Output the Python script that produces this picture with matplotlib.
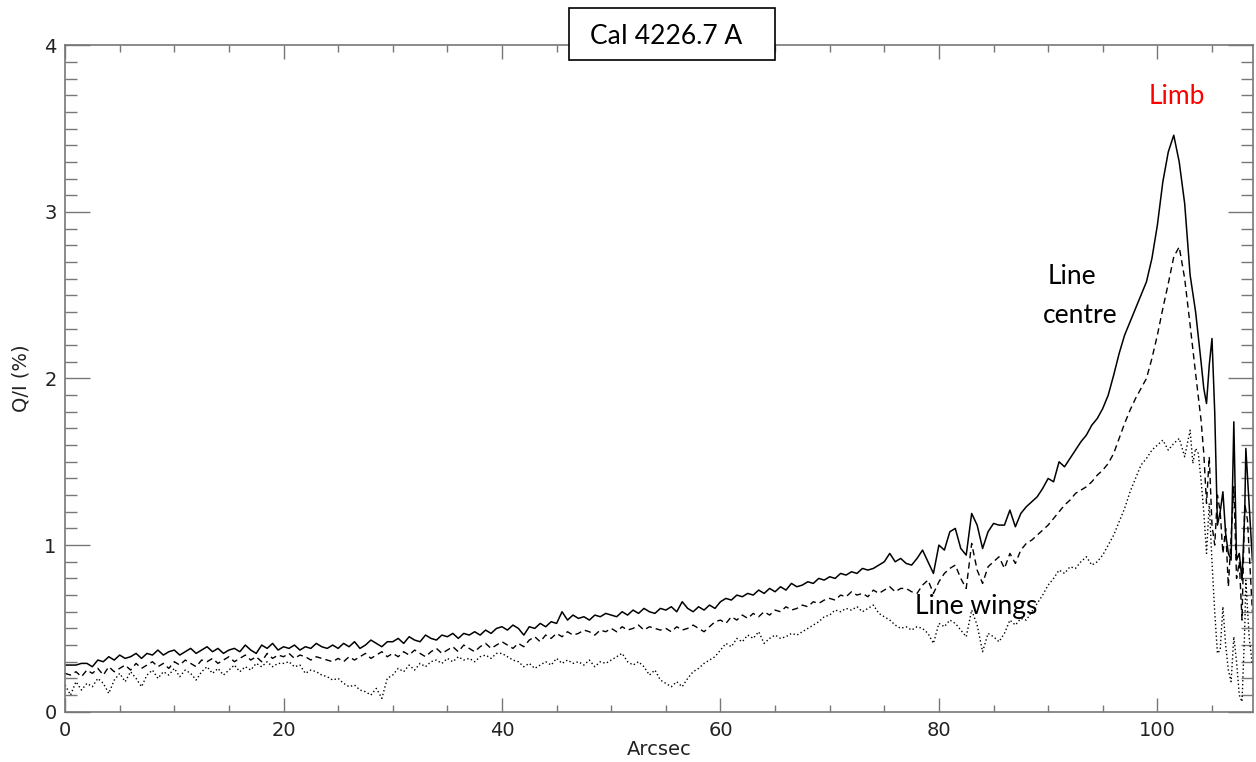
import numpy as np
import matplotlib
matplotlib.use("Agg")
import matplotlib.pyplot as plt
from matplotlib.patches import Rectangle

centre_vals = [
    0.28,0.28,0.28,0.29,0.29,0.27,0.31,0.30,0.33,0.31,0.34,0.32,0.33,0.35,0.32,0.35,0.34,0.37,0.34,0.36,
    0.37,0.34,0.36,0.38,0.35,0.37,0.39,0.36,0.38,0.35,0.37,0.38,0.36,0.40,0.37,0.35,0.40,0.38,0.41,0.37,
    0.39,0.38,0.40,0.37,0.39,0.38,0.41,0.39,0.38,0.40,0.38,0.41,0.39,0.42,0.38,0.40,0.43,0.41,0.39,0.42,
    0.42,0.44,0.41,0.45,0.43,0.42,0.46,0.44,0.43,0.46,0.45,0.47,0.44,0.47,0.46,0.48,0.46,0.49,0.47,0.50,
    0.51,0.49,0.52,0.50,0.46,0.51,0.50,0.53,0.51,0.54,0.53,0.60,0.55,0.58,0.56,0.57,0.55,0.58,0.57,0.59,
    0.58,0.57,0.60,0.58,0.61,0.59,0.62,0.60,0.59,0.62,0.61,0.63,0.60,0.66,0.62,0.60,0.63,0.61,0.64,0.62,
    0.66,0.68,0.67,0.70,0.69,0.71,0.70,0.73,0.71,0.74,0.72,0.75,0.73,0.77,0.75,0.76,0.78,0.77,0.80,0.79,
    0.81,0.80,0.83,0.82,0.84,0.83,0.86,0.85,0.86,0.88,0.90,0.95,0.90,0.92,0.89,0.88,0.92,0.97,0.90,0.83,
    1.00,0.97,1.08,1.10,0.98,0.94,1.19,1.12,0.98,1.08,1.13,1.12,1.12,1.21,1.11,1.19,1.23,1.26,1.29,1.34,
    1.40,1.38,1.50,1.47,1.52,1.57,1.62,1.66,1.72,1.76,1.82,1.90,2.02,2.15,2.26,2.34,2.42,2.50,2.58,2.72]
centre_limb_x = [100,100.5,101,101.5,102,102.5,103,103.5,104,104.25,104.5,104.75,105,105.25,105.5,
                 105.75,106,106.25,106.5,106.75,107,107.25,107.5,107.75,108,108.1,108.4,108.7]
centre_limb = [2.92,3.18,3.36,3.46,3.30,3.05,2.62,2.40,2.10,1.94,1.85,2.08,2.24,1.80,1.12,
               1.20,1.32,1.07,0.95,0.91,1.74,0.91,0.95,0.79,1.20,1.58,1.25,0.91]

dash_vals = [
    0.23,0.22,0.24,0.21,0.25,0.23,0.26,0.22,0.27,0.24,0.26,0.28,0.25,0.29,0.26,0.28,0.30,0.27,0.29,0.26,
    0.30,0.28,0.31,0.29,0.27,0.31,0.30,0.32,0.29,0.31,0.33,0.30,0.32,0.34,0.31,0.33,0.30,0.35,0.32,0.34,
    0.33,0.35,0.32,0.34,0.33,0.31,0.33,0.32,0.31,0.30,0.32,0.30,0.33,0.31,0.33,0.35,0.32,0.34,0.36,0.33,
    0.35,0.33,0.36,0.34,0.37,0.35,0.33,0.36,0.38,0.35,0.37,0.39,0.36,0.40,0.38,0.36,0.39,0.41,0.38,0.40,
    0.42,0.40,0.38,0.41,0.39,0.43,0.45,0.42,0.46,0.44,0.47,0.45,0.48,0.46,0.47,0.49,0.48,0.46,0.49,0.48,
    0.50,0.48,0.51,0.49,0.50,0.52,0.49,0.51,0.50,0.49,0.50,0.48,0.51,0.49,0.50,0.52,0.50,0.48,0.51,0.54,
    0.55,0.53,0.57,0.55,0.58,0.56,0.59,0.57,0.60,0.58,0.61,0.60,0.63,0.61,0.62,0.64,0.63,0.66,0.65,0.67,
    0.68,0.67,0.70,0.69,0.72,0.70,0.71,0.69,0.73,0.71,0.73,0.75,0.72,0.74,0.74,0.72,0.71,0.76,0.79,0.71,
    0.78,0.83,0.86,0.88,0.80,0.74,1.01,0.85,0.77,0.87,0.90,0.93,0.86,0.95,0.89,0.97,1.01,1.03,1.06,1.09,
    1.12,1.16,1.20,1.24,1.27,1.31,1.33,1.35,1.38,1.42,1.45,1.49,1.55,1.64,1.73,1.81,1.88,1.94,2.00,2.12]
dash_limb_x = [100,100.5,101,101.5,102,102.5,103,103.5,104,104.25,104.5,104.75,105,105.25,105.5,
               105.75,106,106.25,106.5,106.75,107,107.25,107.5,107.75,108,108.25,108.5,108.7]
dash_limb = [2.26,2.42,2.57,2.73,2.79,2.60,2.32,2.03,1.75,1.55,1.25,1.53,1.12,1.00,1.30,
             1.20,0.95,1.10,0.75,1.05,1.35,0.80,0.90,0.55,1.25,1.15,0.85,0.60]

wing_vals = [
    0.16,0.10,0.18,0.13,0.17,0.15,0.20,0.17,0.11,0.19,0.23,0.18,0.24,0.20,0.15,0.22,0.25,0.20,0.24,0.22,
    0.26,0.21,0.25,0.23,0.19,0.24,0.27,0.23,0.26,0.22,0.25,0.28,0.24,0.27,0.25,0.29,0.27,0.30,0.27,0.29,
    0.29,0.30,0.27,0.28,0.23,0.25,0.24,0.22,0.21,0.19,0.20,0.17,0.15,0.16,0.13,0.12,0.10,0.14,0.08,0.20,
    0.22,0.26,0.24,0.28,0.25,0.29,0.27,0.30,0.31,0.29,0.32,0.30,0.33,0.31,0.32,0.30,0.33,0.34,0.32,0.35,
    0.35,0.33,0.31,0.30,0.27,0.29,0.26,0.28,0.30,0.28,0.32,0.29,0.31,0.29,0.30,0.28,0.31,0.27,0.30,0.29,
    0.31,0.33,0.35,0.30,0.28,0.30,0.27,0.22,0.25,0.19,0.17,0.15,0.18,0.15,0.20,0.24,0.26,0.29,0.31,0.33,
    0.37,0.41,0.39,0.44,0.42,0.46,0.44,0.48,0.41,0.44,0.46,0.44,0.45,0.47,0.46,0.48,0.50,0.52,0.54,0.57,
    0.58,0.61,0.60,0.62,0.61,0.63,0.60,0.62,0.64,0.59,0.57,0.55,0.52,0.50,0.51,0.49,0.51,0.50,0.47,0.41,
    0.53,0.51,0.55,0.53,0.49,0.45,0.61,0.52,0.36,0.47,0.45,0.42,0.47,0.55,0.52,0.56,0.55,0.60,0.65,0.70,
    0.76,0.80,0.85,0.83,0.87,0.86,0.90,0.93,0.88,0.90,0.94,1.00,1.06,1.14,1.22,1.32,1.40,1.48,1.52,1.57]
wing_limb_x = [100,100.5,101,101.5,102,102.5,103,103.25,103.5,103.75,104,104.25,104.5,104.75,105,
               105.25,105.5,105.75,106,106.25,106.5,106.75,107,107.25,107.5,107.75,108,108.1,108.4,108.7]
wing_limb = [1.60,1.63,1.57,1.61,1.64,1.53,1.69,1.49,1.58,1.55,1.39,1.20,0.95,1.25,0.90,
             0.60,0.35,0.37,0.63,0.40,0.25,0.18,0.45,0.30,0.10,0.06,0.50,0.79,0.45,0.28]

x_disk = np.arange(0, 100, 0.5)

fig = plt.figure(figsize=(12.56, 7.62), dpi=100)
ax = fig.add_axes([0.0518, 0.066, 0.9462, 0.8746])

ax.plot(np.concatenate([x_disk, centre_limb_x]), centre_vals + centre_limb,
        color="black", lw=1.1)
ax.plot(np.concatenate([x_disk, dash_limb_x]), dash_vals + dash_limb,
        color="black", lw=1.0, dashes=(4.5, 3))
ax.plot(np.concatenate([x_disk, wing_limb_x]), wing_vals + wing_limb,
        color="black", lw=1.0, dashes=(1, 1.8))

ax.set_xlim(0, 108.8)
ax.set_ylim(0, 4)
ax.set_xticks([0, 20, 40, 60, 80, 100])
ax.set_xticks(np.arange(0, 109, 5), minor=True)
ax.set_yticks([0, 1, 2, 3, 4])
ax.set_yticks(np.arange(0, 4.01, 0.1), minor=True)

gray = "#777777"
for s in ax.spines.values():
    s.set_color(gray)
    s.set_linewidth(1.2)
ax.tick_params(which="both", direction="in", top=True, right=True, color=gray, width=1.0,
               labelsize=14, labelcolor="#222222")
ax.tick_params(axis="x", which="major", length=10, pad=7)
ax.tick_params(axis="x", which="minor", length=5)
ax.tick_params(axis="y", which="major", length=18, pad=6)
ax.tick_params(axis="y", which="minor", length=8.5)

ax.set_xlabel("Arcsec", fontsize=14, color="#222222", labelpad=0)
ax.set_ylabel("Q/I (%)", fontsize=14, color="#222222", labelpad=10)

# annotations
ax.text(101.8, 3.69, "Limb", color="red", fontsize=19, family="Lato", ha="center", va="center")
ax.text(92.2, 2.61, "Line", color="black", fontsize=19, family="Lato", ha="center", va="center")
ax.text(92.9, 2.38, "centre", color="black", fontsize=19, family="Lato", ha="center", va="center")
ax.text(83.4, 0.63, "Line wings", color="black", fontsize=19, family="Lato", ha="center", va="center")

# title box sitting on top of the frame
fig.add_artist(Rectangle((569/1256, 1 - 60/762), 206/1256, 52/762, transform=fig.transFigure,
                         facecolor="white", edgecolor="black", lw=1.2, zorder=10))
fig.text(590/1256, 1 - 37/762, "CaI 4226.7 A", fontsize=19, family="Lato",
         ha="left", va="center", zorder=11)

fig.savefig("out.png", dpi=100)
